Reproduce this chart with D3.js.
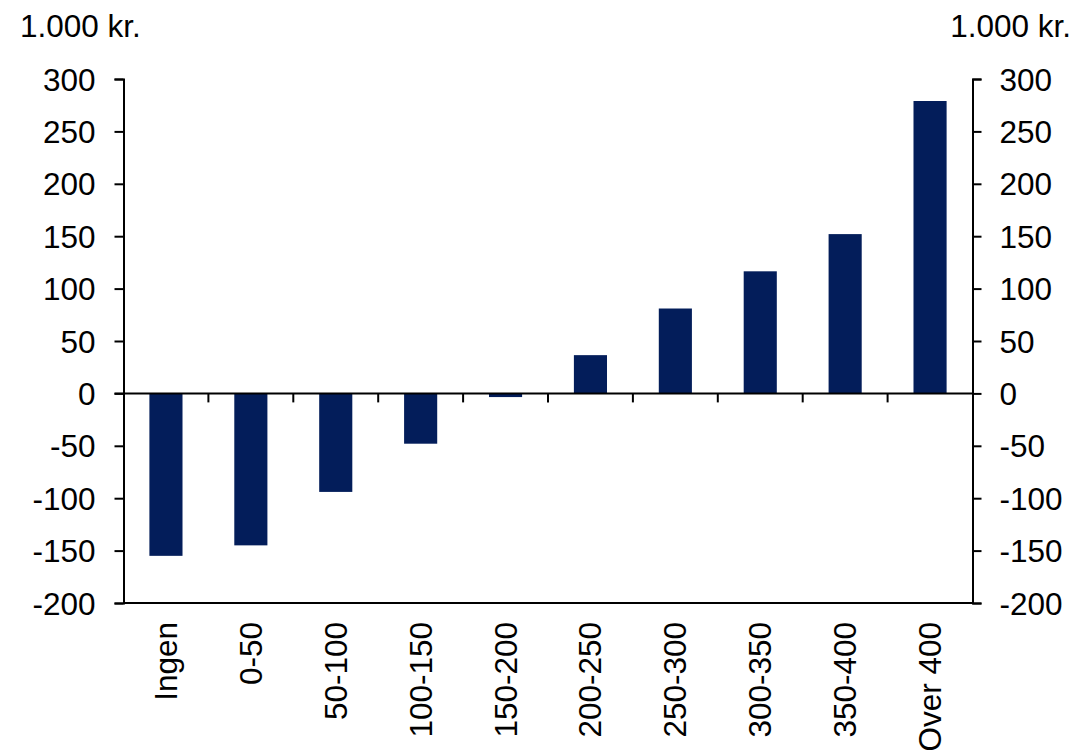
<!DOCTYPE html>
<html>
<head>
<meta charset="utf-8">
<script src="https://cdn.jsdelivr.net/npm/d3@7"></script>
<style>
  html, body { margin: 0; padding: 0; background: #fff; }
  svg { display: block; font-family: "Liberation Sans", Arial, sans-serif; }
</style>
</head>
<body>
<svg id="chart" width="1076" height="752"></svg>
<script>
const categories = ["Ingen", "0-50", "50-100", "100-150", "150-200", "200-250", "250-300", "300-350", "350-400", "Over 400"];
const values = [-155, -145, -94, -48, -3.5, 36.5, 81, 116.5, 152, 279];
const yTicks = [300, 250, 200, 150, 100, 50, 0, -50, -100, -150, -200];
const unitLabel = "1.000 kr.";

(function () {
const svg = d3.select("#chart");
const mLeft = 123.5, mRight = 972.5, mTop = 79, mBottom = 603;
const fontSize = 31.5;
const fmt = d => String(d);

const x = d3.scaleBand().domain(categories).range([mLeft, mRight]).paddingInner(0.61).paddingOuter(0.305);
const y = d3.scaleLinear().domain([-200, 300]).range([mBottom, mTop]);

// bars
svg.append("g").selectAll("rect").data(values).join("rect")
  .attr("x", (d, i) => x(categories[i]))
  .attr("width", x.bandwidth())
  .attr("y", d => y(Math.max(0, d)))
  .attr("height", d => Math.abs(y(d) - y(0)))
  .attr("fill", "#031d5a");

// left axis
const leftAxis = svg.append("g").attr("transform", `translate(${mLeft},0)`)
  .call(d3.axisLeft(y).tickValues(yTicks).tickSize(9).tickPadding(19).tickFormat(fmt));
// right axis
const rightAxis = svg.append("g").attr("transform", `translate(${mRight},0)`)
  .call(d3.axisRight(y).tickValues(yTicks).tickSize(9).tickPadding(18).tickFormat(fmt));

[leftAxis, rightAxis].forEach(g => {
  g.select(".domain").attr("stroke", "#000").attr("stroke-width", 2);
  g.selectAll(".tick line").attr("stroke", "#000").attr("stroke-width", 2);
  g.selectAll(".tick text").attr("font-size", fontSize).attr("fill", "#000")
    .attr("font-family", "Liberation Sans, Arial, sans-serif").attr("dy", "0.35em");
});

// bottom line
svg.append("line").attr("x1", mLeft).attr("x2", mRight).attr("y1", mBottom).attr("y2", mBottom)
  .attr("stroke", "#000").attr("stroke-width", 2);

// zero axis with ticks between categories
const zeroAxis = svg.append("g").attr("transform", `translate(0,${y(0)})`);
zeroAxis.append("line").attr("x1", mLeft - 9).attr("x2", mRight).attr("y1", 0).attr("y2", 0)
  .attr("stroke", "#000").attr("stroke-width", 2);
const step = x.step();
const boundaries = d3.range(1, categories.length).map(i => mLeft + i * step);
zeroAxis.selectAll("line.tk").data(boundaries).join("line").attr("class", "tk")
  .attr("x1", d => d).attr("x2", d => d).attr("y1", 0).attr("y2", 9)
  .attr("stroke", "#000").attr("stroke-width", 2);

// category labels
svg.append("g").selectAll("text").data(categories).join("text")
  .attr("transform", d => `translate(${x(d) + x.bandwidth() / 2},622) rotate(-90)`)
  .attr("text-anchor", "end")
  .attr("dy", "0.35em")
  .attr("font-size", fontSize)
  .attr("fill", "#000")
  .text(d => d);

// unit labels
svg.append("text").attr("x", 20).attr("y", 37).attr("font-size", fontSize).attr("fill", "#000").text(unitLabel);
svg.append("text").attr("x", 1071).attr("y", 37).attr("text-anchor", "end").attr("font-size", fontSize).attr("fill", "#000").text(unitLabel);
})();
</script>
</body>
</html>
